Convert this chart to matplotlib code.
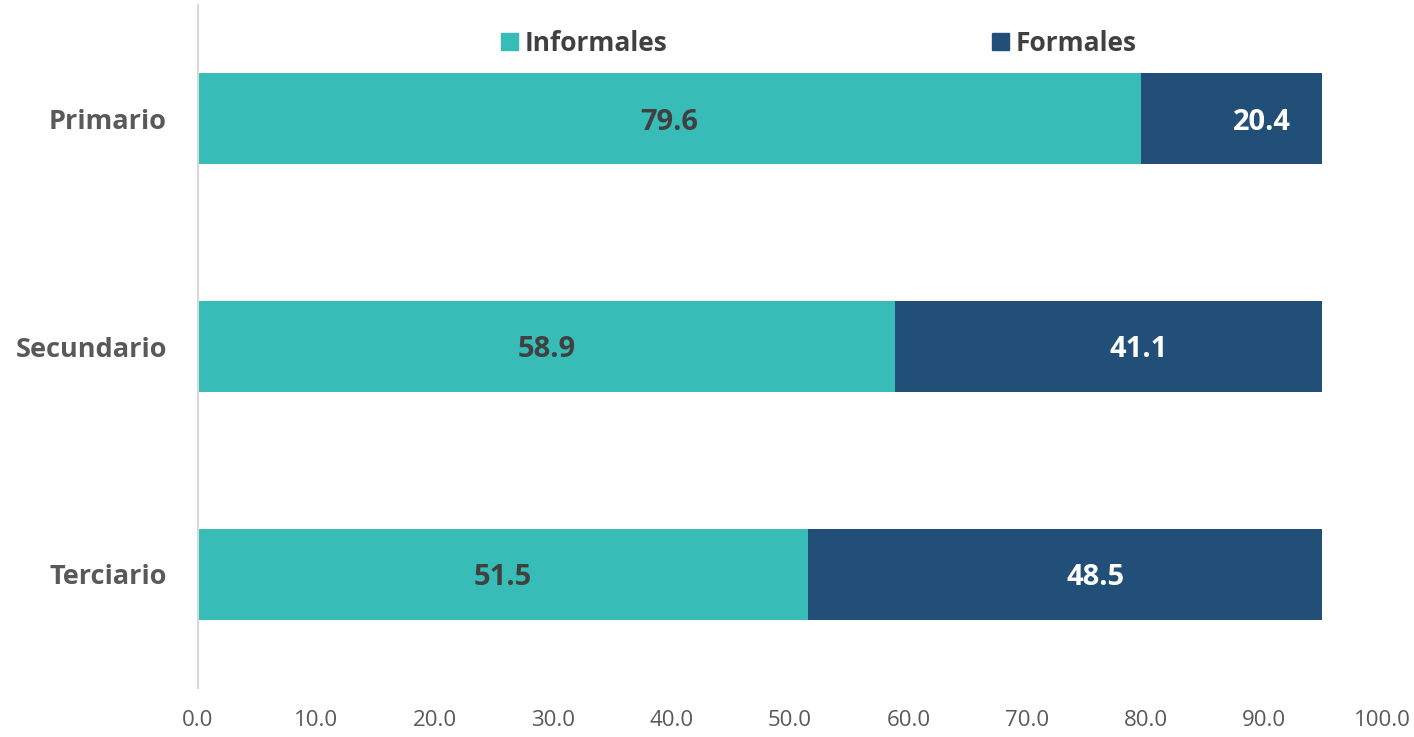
import numpy as np
import matplotlib
matplotlib.use("Agg")
from matplotlib import pyplot as plt
from matplotlib.patches import Rectangle, Patch

plt.rcParams['font.family'] = ['Open Sans', 'DejaVu Sans']

categories = ["Primario", "Secundario", "Terciario"]
informales = [79.6, 58.9, 51.5]
formales = [20.4, 41.1, 48.5]
ticks = [0, 10, 20, 30, 40, 50, 60, 70, 80, 90, 100]

teal = "#37BCB7"
navy = "#214F78"
gray = "#595959"
dark = "#404040"

fig = plt.figure(figsize=(14.14, 7.37), dpi=100)
ax = fig.add_axes([0.1397, 0.0665, 0.838, 0.9267])

y = np.arange(len(categories))
b1 = ax.barh(y, informales, height=0.4, color=teal)
b2 = ax.barh(y, formales, left=informales, height=0.4, color=navy)

ax.set_xlim(0, 100)
ax.set_ylim(2.5, -0.5)

# the source plot area cuts the bars off a bit before 100
clip = Rectangle((0, -0.5), 94.9, 3, transform=ax.transData)
for bar in list(b1) + list(b2):
    bar.set_clip_path(clip)

for i in range(len(categories)):
    ax.text(informales[i] / 2, y[i] + 0.015, "%.1f" % informales[i], ha="center", va="center",
            fontsize=21, fontweight="bold", color=dark)
    ax.text(informales[i] + formales[i] / 2, y[i] + 0.015, "%.1f" % formales[i], ha="center", va="center",
            fontsize=21, fontweight="bold", color="white")

ax.set_yticks(y)
ax.set_yticklabels(categories, fontsize=19.5, fontweight="bold", color=gray)
ax.set_xticks(ticks)
ax.set_xticklabels(["%.1f" % t for t in ticks], fontsize=16, color=gray)
ax.tick_params(axis="both", length=0)
ax.tick_params(axis="y", pad=22)
ax.tick_params(axis="x", pad=16)

for s in ["top", "right", "bottom"]:
    ax.spines[s].set_visible(False)
ax.spines["left"].set_color("#D9D9D9")
ax.spines["left"].set_linewidth(1.5)

handles = [Patch(color=teal, label="Informales"), Patch(color=navy, label="Formales")]
leg = ax.legend(handles=handles, loc="center", bbox_to_anchor=(0.524, 0.944), ncol=2,
                frameon=False, columnspacing=12.3, handlelength=0.65, handleheight=0.65,
                handletextpad=0.25, prop={"size": 19, "weight": "bold"})
for t in leg.get_texts():
    t.set_color(dark)

fig.savefig("out.png", dpi=100)
